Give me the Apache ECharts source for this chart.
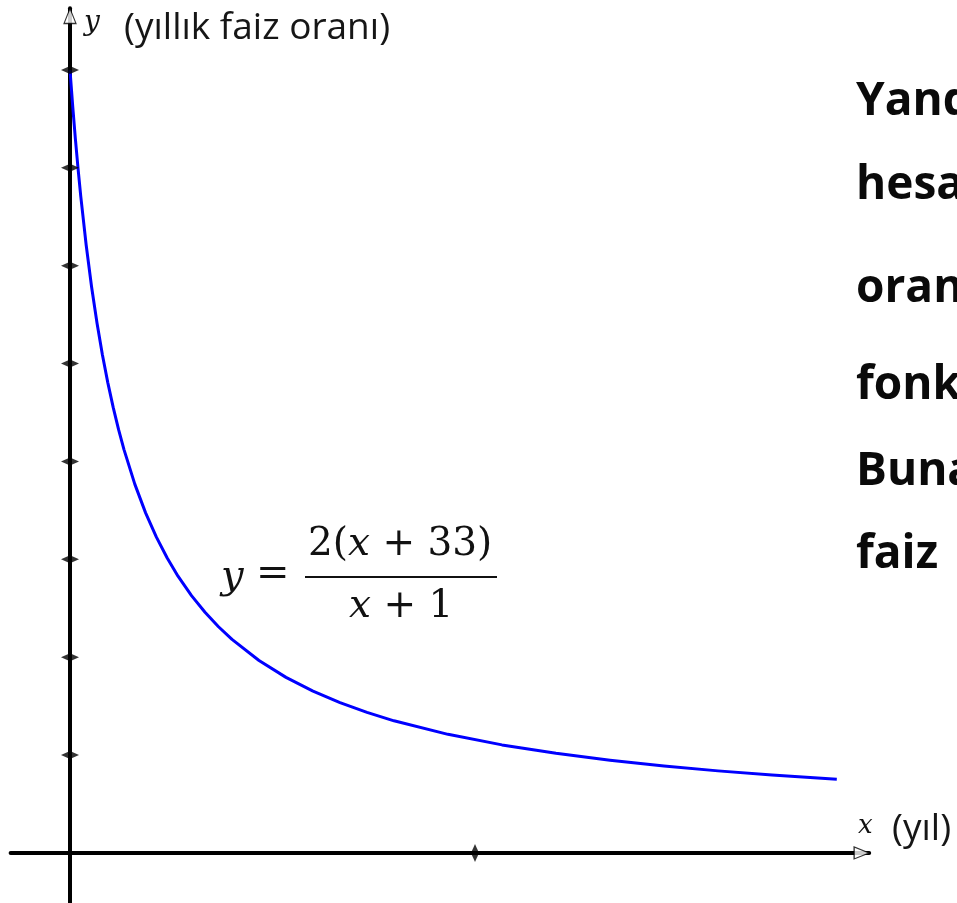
<!DOCTYPE html>
<html>
<head>
<meta charset="utf-8">
<script src="https://cdn.jsdelivr.net/npm/echarts@6/dist/echarts.min.js"></script>
<style>
  html, body { margin: 0; padding: 0; background: #fff; }
  #chart { width: 957px; height: 903px; }
</style>
</head>
<body>
<div id="chart"></div>
<script>
// Interest rate curve y = 2(x+33)/(x+1): sampled points (x in years, y = yearly rate)
const curveX = [0, 0.05, 0.1, 0.15, 0.2, 0.3, 0.4, 0.5, 0.6, 0.7, 0.8, 0.9, 1, 1.2, 1.4, 1.6, 1.8, 2, 2.25, 2.5, 2.75, 3, 3.5, 4, 4.5, 5, 5.5, 6, 7, 8, 9, 10, 11, 12, 13, 14.2];
const curveY = [66, 62.95, 60.18, 57.65, 55.33, 51.23, 47.71, 44.67, 42.0, 39.65, 37.56, 35.68, 34, 31.09, 28.67, 26.62, 24.86, 23.33, 21.69, 20.29, 19.07, 18, 16.22, 14.8, 13.64, 12.67, 11.85, 11.14, 10, 9.11, 8.4, 7.82, 7.33, 6.92, 6.57, 6.21];

// Tick marks on the axes (no labels are printed)
const yTickVals = [8.25, 16.5, 24.75, 33, 41.25, 49.5, 57.75, 66];
const xTickVals = [7.5];

// Axis ranges
const X_MIN = -1.1, X_MAX = 14.8;
const Y_MIN = -4.2, Y_MAX = 71.2;

const chart = echarts.init(document.getElementById('chart'), null, { renderer: 'canvas' });

const serif = 'DejaVu Serif';
const sans = 'Open Sans';

const option = {
  backgroundColor: '#ffffff',
  animation: false,
  grid: { left: 10.6, width: 858.6, top: 8.3, height: 894.5, containLabel: false },
  xAxis: {
    type: 'value', min: X_MIN, max: X_MAX,
    axisLine: { show: true, onZero: true, lineStyle: { color: '#000', width: 4 } },
    axisTick: { show: false }, axisLabel: { show: false }, splitLine: { show: false }
  },
  yAxis: {
    type: 'value', min: Y_MIN, max: Y_MAX,
    axisLine: { show: true, onZero: true, lineStyle: { color: '#000', width: 4 } },
    axisTick: { show: false }, axisLabel: { show: false }, splitLine: { show: false }
  },
  series: [
    {
      name: 'faiz',
      type: 'line',
      data: curveX.map((x, i) => [x, curveY[i]]),
      smooth: false,
      showSymbol: false,
      lineStyle: { color: '#0000ff', width: 3, join: 'round' },
      z: 3
    },
    {
      name: 'yTicks',
      type: 'scatter',
      data: yTickVals.map(v => [0, v]),
      symbol: 'diamond',
      symbolSize: [18, 8],
      itemStyle: { color: '#000' },
      silent: true, clip: false, z: 4
    },
    {
      name: 'xTicks',
      type: 'scatter',
      data: xTickVals.map(v => [v, 0]),
      symbol: 'diamond',
      symbolSize: [8, 18],
      itemStyle: { color: '#000' },
      silent: true, clip: false, z: 4
    },
    {
      name: 'arrows',
      type: 'scatter',
      data: [
        { value: [X_MAX - 0.14, 0], symbolRotate: -90 },
        { value: [0, Y_MAX - 0.65], symbolRotate: 0 }
      ],
      symbol: 'triangle',
      symbolSize: [12, 15],
      itemStyle: { color: '#fff', borderColor: '#000', borderWidth: 1.2 },
      silent: true, clip: false, z: 5
    }
  ],
  graphic: [
    // y axis name
    { type: 'text', left: 84, top: 9,
      style: { text: 'y', font: 'italic 28px "' + serif + '"', fill: '#111' } },
    { type: 'text', left: 124, top: 10,
      style: { text: '(yıllık faiz oranı)', font: '37px "' + sans + '"', fill: '#161616' } },
    // x axis name
    { type: 'text', left: 858, top: 813,
      style: { text: 'x', font: 'italic 26px "' + serif + '"', fill: '#111' } },
    { type: 'text', left: 892, top: 811,
      style: { text: '(yıl)', font: '37px "' + sans + '"', fill: '#161616' } },
    // formula
    { type: 'text', left: 221, top: 558,
      style: { text: 'y', font: 'italic 40px "' + serif + '"', fill: '#111' } },
    { type: 'text', left: 256, top: 555,
      style: { text: '=', font: '40px "' + serif + '"', fill: '#111' } },
    { type: 'text', left: 308, top: 525,
      style: {
        text: '{n|2(}{i|x}{n| + 33)}',
        rich: {
          n: { font: '39px "' + serif + '"', fill: '#111' },
          i: { font: 'italic 39px "' + serif + '"', fill: '#111' }
        }
      } },
    { type: 'line', shape: { x1: 305, y1: 577, x2: 497, y2: 577 },
      style: { stroke: '#111', lineWidth: 2 } },
    { type: 'text', left: 349, top: 587,
      style: {
        text: '{i|x}{n| + 1}',
        rich: {
          n: { font: '39px "' + serif + '"', fill: '#111' },
          i: { font: 'italic 39px "' + serif + '"', fill: '#111' }
        }
      } },
    // side text (continues past the right edge)
    { type: 'text', left: 856, top: 79,
      style: { text: 'Yandaki', font: 'bold 46px "' + sans + '"', fill: '#0a0a0a' } },
    { type: 'text', left: 856, top: 163,
      style: { text: 'hesabı', font: 'bold 46px "' + sans + '"', fill: '#0a0a0a' } },
    { type: 'text', left: 856, top: 266,
      style: { text: 'oranı', font: 'bold 46px "' + sans + '"', fill: '#0a0a0a' } },
    { type: 'text', left: 856, top: 363,
      style: { text: 'fonksiyonu', font: 'bold 46px "' + sans + '"', fill: '#0a0a0a' } },
    { type: 'text', left: 856, top: 449,
      style: { text: 'Buna', font: 'bold 46px "' + sans + '"', fill: '#0a0a0a' } },
    { type: 'text', left: 856, top: 532,
      style: { text: 'faiz', font: 'bold 46px "' + sans + '"', fill: '#0a0a0a' } }
  ]
};

chart.setOption(option);
</script>
</body>
</html>
